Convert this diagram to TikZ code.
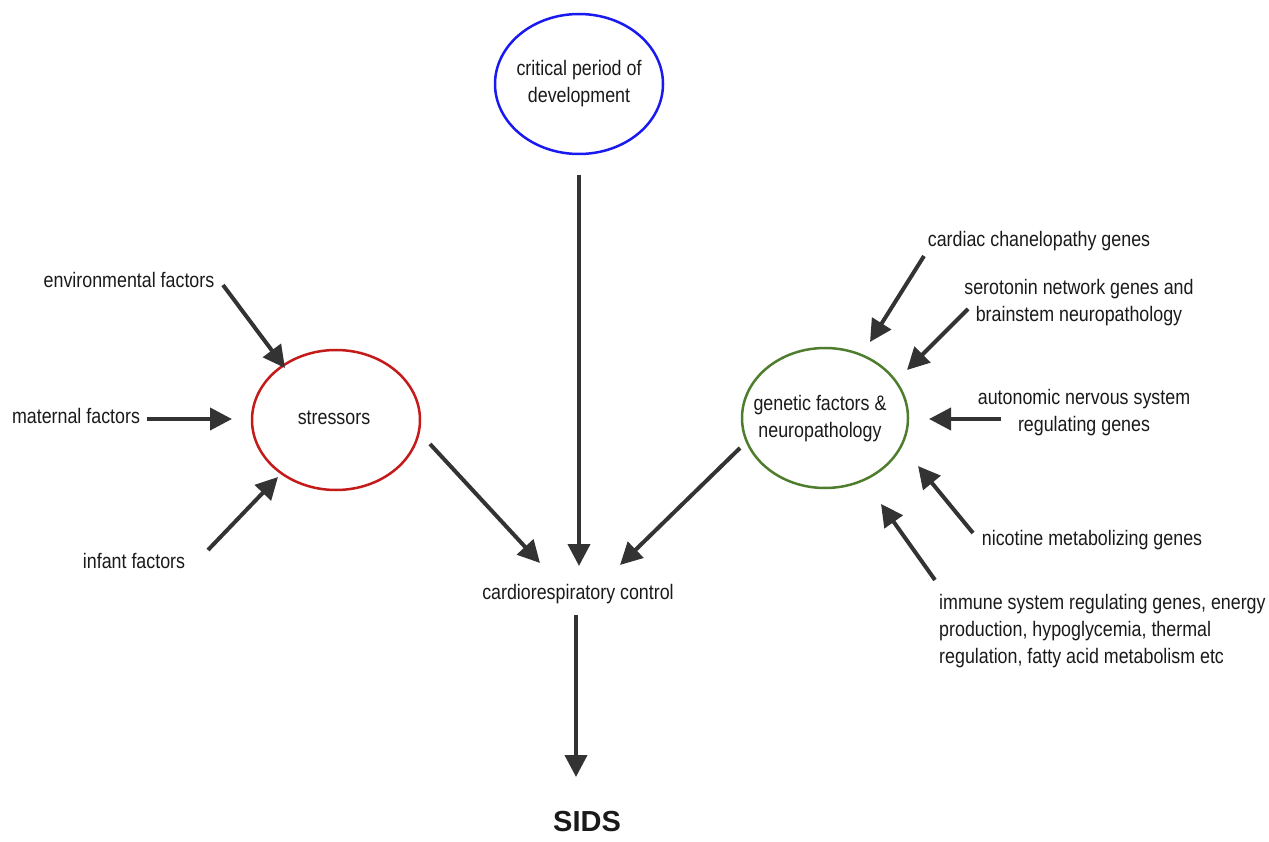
\documentclass[tikz,border=0pt]{standalone}
\usepackage{fontspec}
\setmainfont{Liberation Sans}[FakeStretch=0.85]
\newfontfamily\plainsans{Liberation Sans}
\usetikzlibrary{shapes.geometric,arrows.meta}
\definecolor{arr}{HTML}{333333}
\definecolor{txt}{HTML}{1A1A1A}
\definecolor{eblue}{HTML}{1A1AF0}
\definecolor{ered}{HTML}{C41A1A}
\definecolor{egreen}{HTML}{4E7D2E}
\tikzset{
  lbl/.style={text=txt,font=\fontsize{21}{27}\selectfont,inner sep=0pt,align=center},
  oval/.style={ellipse,draw,line width=2.5pt,minimum width=168pt,minimum height=140pt,inner sep=0pt},
  conn/.style={draw=arr,line width=4pt,-{Triangle[length=22pt,width=22pt]}}
}
\begin{document}
\begin{tikzpicture}[x=1pt,y=-1pt]
\useasboundingbox (0,0) rectangle (1269,842);
% ovals
\node[oval,draw=eblue] (crit) at (579,84) {};
\node[lbl] (crittxt) at (579,84) {critical period of\\development};
\node[oval,draw=ered] (stress) at (336,420) {};
\node[lbl] (stresstxt) at (334,418) {stressors};
\node[oval,draw=egreen,minimum width=166pt] (gen) at (825,418) {};
\node[lbl] (gentxt) at (820,419) {genetic factors \&\\neuropathology};
% labels
\node[lbl] (env) at (129,280) {environmental factors};
\node[lbl] (mat) at (76,416) {maternal factors};
\node[lbl] (inf) at (134,561) {infant factors};
\node[lbl] (cardio) at (578,594) {cardiorespiratory control};
\node[text=txt,font=\plainsans\bfseries\fontsize{29}{32}\selectfont,inner sep=0pt,anchor=base] (sids) at (587,831) {SIDS};
\node[lbl] (cardiac) at (1039,241) {cardiac chanelopathy genes};
\node[lbl] (sero) at (1079,303) {serotonin network genes and\\brainstem neuropathology};
\node[lbl] (auto) at (1084,413) {autonomic nervous system\\regulating genes};
\node[lbl] (nic) at (1092,540) {nicotine metabolizing genes};
\node[lbl,align=left,anchor=north west] (imm) at (939,594) {immune system regulating genes, energy\\production, hypoglycemia, thermal\\regulation, fatty acid metabolism etc};
% connector end points
\coordinate (e1s) at (223,285); \coordinate (e1e) at (285,368);
\coordinate (e2s) at (147,419); \coordinate (e2e) at (232,419);
\coordinate (e3s) at (208,550); \coordinate (e3e) at (278,477);
\coordinate (e4s) at (430,444); \coordinate (e4e) at (540,563);
\coordinate (e5s) at (579,175); \coordinate (e5e) at (579,566);
\coordinate (e6s) at (740,448); \coordinate (e6e) at (620,565);
\coordinate (e7s) at (576,615); \coordinate (e7e) at (576,777);
\coordinate (e8s) at (924,256); \coordinate (e8e) at (870,342);
\coordinate (e9s) at (968,309); \coordinate (e9e) at (907,370);
\coordinate (e10s) at (1001,419); \coordinate (e10e) at (929,419);
\coordinate (e11s) at (973,533); \coordinate (e11e) at (918,466);
\coordinate (e12s) at (935,580); \coordinate (e12e) at (881,504);
% connectors
\draw[conn] (e1s) -- (e1e);
\draw[conn] (e2s) -- (e2e);
\draw[conn] (e3s) -- (e3e);
\draw[conn] (e4s) -- (e4e);
\draw[conn] (e5s) -- (e5e);
\draw[conn] (e6s) -- (e6e);
\draw[conn] (e7s) -- (e7e);
\draw[conn] (e8s) -- (e8e);
\draw[conn] (e9s) -- (e9e);
\draw[conn] (e10s) -- (e10e);
\draw[conn] (e11s) -- (e11e);
\draw[conn] (e12s) -- (e12e);
\end{tikzpicture}
\end{document}
